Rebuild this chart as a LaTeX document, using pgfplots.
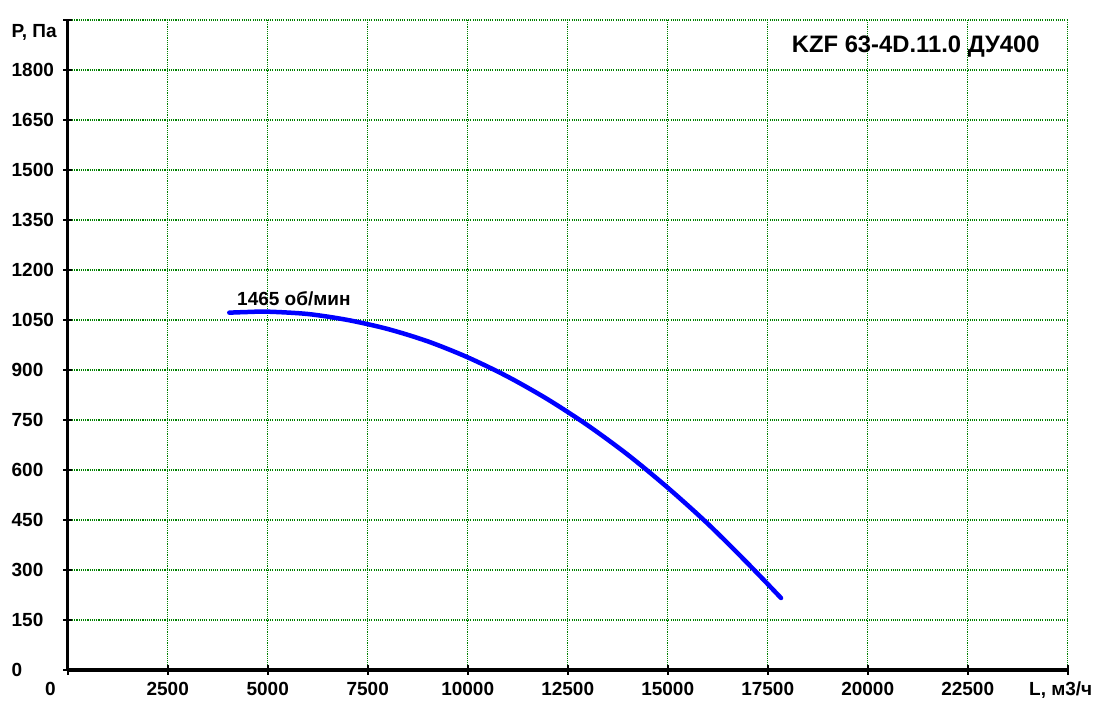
\documentclass[border=0pt]{standalone}
\usepackage{pgfplots}
\pgfplotsset{compat=1.18}
\usepackage{fontspec}
\setmainfont{Liberation Sans}
\definecolor{gridgreen}{RGB}{0,128,0}
\definecolor{curveblue}{RGB}{0,0,255}
\newcommand{\yl}[1]{\makebox[48pt][l]{#1}}
\begin{document}
\begin{tikzpicture}[x=1pt,y=1pt]
\path[use as bounding box] (-67.7,-47) rectangle (1032.3,670);
\begin{axis}[
  at={(0,0)}, anchor=south west,
  scale only axis, width=1000pt, height=650pt,
  xmin=0, xmax=25000, ymin=0, ymax=1950,
  axis x line=bottom, axis y line=left,
  axis line style={line width=3.3pt,-},
  scaled ticks=false,
  xtick={0,2500,...,25000},
  ytick={0,150,...,1950},
  xticklabels={{\makebox[0pt][r]{0\hspace{12pt}}},2500,5000,7500,10000,12500,15000,17500,20000,22500,{L, м3/ч\hspace*{14pt}}},
  yticklabels={{\yl{0}},{\yl{150}},{\yl{300}},{\yl{450}},{\yl{600}},{\yl{750}},{\yl{900}},{\yl{1050}},{\yl{1200}},{\yl{1350}},{\yl{1500}},{\yl{1650}},{\yl{1800}},{\yl{\raisebox{-12pt}[\height][\depth]{P, Па}}}},
  tick label style={font=\fontsize{19}{21}\selectfont\bfseries, text=black},
  xticklabel style={yshift=-4pt},
  tick align=center, major tick length=9pt,
  major tick style={draw=black, line width=2pt},
  grid=major,
  major grid style={draw=gridgreen, line width=1.1pt, dash pattern=on 1.1pt off 1.1pt},
  clip=false,
]
\addplot[curveblue, line width=4.5pt, line cap=round, smooth] coordinates {
  (4040,1072) (4500,1074) (5000,1075) (6000,1068) (7000,1050) (8000,1023)
  (9000,986) (10000,938) (11000,880) (12000,812) (13000,734) (14000,646)
  (15000,547) (16000,439) (17000,320) (17833,216)
};
\node[anchor=base west, font=\fontsize{19}{21}\selectfont\bfseries, inner sep=0pt] at (axis cs:4233,1092) {1465 об/мин};
\node[anchor=base west, font=\fontsize{23.8}{26}\selectfont\bfseries, inner sep=0pt] at (axis cs:18100,1853) {KZF 63-4D.11.0 ДУ400};
\end{axis}
\end{tikzpicture}
\end{document}
